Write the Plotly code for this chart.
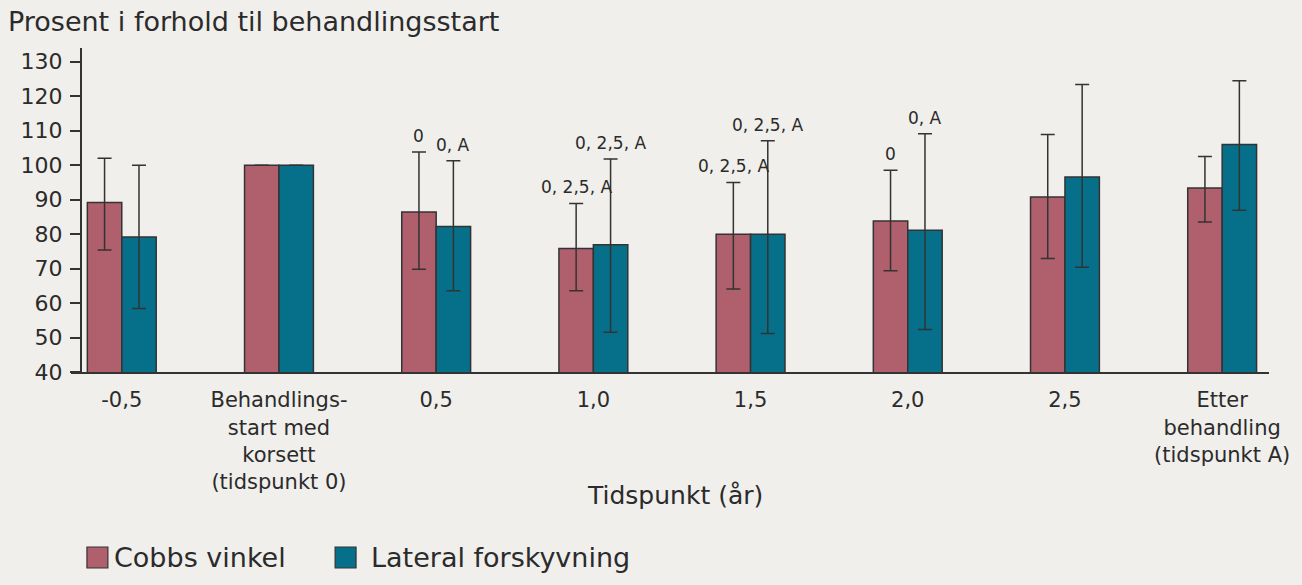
import plotly.graph_objects as go

# ---- data ----
categories = ["-0,5", "Behandlings-<br>start med<br>korsett<br>(tidspunkt 0)", "0,5", "1,0", "1,5",
              "2,0", "2,5", "Etter<br>behandling<br>(tidspunkt A)"]
cobb_mean = [89.2, 100, 86.4, 75.8, 80.0, 83.8, 90.8, 93.4]
cobb_upper = [102.0, None, 103.8, 88.9, 95.0, 98.5, 108.9, 102.5]
cobb_lower = [75.4, None, 69.8, 63.6, 64.1, 69.4, 72.9, 83.5]
lat_mean = [79.2, 100, 82.2, 76.9, 80.0, 81.1, 96.6, 106.0]
lat_upper = [100.0, None, 101.3, 101.8, 107.1, 109.1, 123.4, 124.5]
lat_lower = [58.4, None, 63.6, 51.5, 51.2, 52.3, 70.4, 86.9]
cobb_notes = ["", "", "0", "0, 2,5, A", "0, 2,5, A", "0", "", ""]
lat_notes = ["", "", "0, A", "0, 2,5, A", "0, 2,5, A", "0, A", "", ""]
series_names = ["Cobbs vinkel", "Lateral forskyvning"]

# ---- style ----
W, H = 1302, 585
ML, MR, MT, MB = 71, 29, 48, 213
BG = "#f0efeb"
COBB = "#b0606d"
TEAL = "#06708a"
DARK = "#333333"
TXT = "#2b2b2b"
FONT = "DejaVu Sans"
BW = 0.219

x = list(range(len(categories)))


def err(mean, up, lo):
    plus = [None if u is None else u - m for m, u in zip(mean, up)]
    minus = [None if l is None else m - l for m, l in zip(mean, lo)]
    return plus, minus


cp, cm = err(cobb_mean, cobb_upper, cobb_lower)
lp, lm = err(lat_mean, lat_upper, lat_lower)

fig = go.Figure()
for name, mean, plus, minus, col, off in [
    (series_names[0], cobb_mean, cp, cm, COBB, -BW),
    (series_names[1], lat_mean, lp, lm, TEAL, 0.0),
]:
    fig.add_trace(go.Bar(
        x=x, y=mean, name=name, width=BW, offset=off,
        marker=dict(color=col, line=dict(color=DARK, width=1.5)),
        error_y=dict(type="data", symmetric=False, array=plus, arrayminus=minus,
                     color=DARK, thickness=1.5, width=7),
        showlegend=False, hoverinfo="skip",
    ))

# significance labels above error bars
for notes, up, off in [(cobb_notes, cobb_upper, -BW / 2), (lat_notes, lat_upper, BW / 2)]:
    for i, t in enumerate(notes):
        if t and up[i] is not None:
            fig.add_annotation(x=x[i] + off, y=up[i], text=t, showarrow=False,
                               xref="x", yref="y", yanchor="bottom", yshift=4,
                               font=dict(family=FONT, size=17, color=TXT))

pw = W - ML - MR
ph = H - MT - MB


def px(xp):
    return (xp - ML) / pw


def py(yp):
    return (H - MB - yp) / ph


# axis title
fig.add_annotation(x=px(677), y=py(495), xref="paper", yref="paper", text="Tidspunkt (år)",
                   showarrow=False, yanchor="middle", xanchor="center",
                   font=dict(family=FONT, size=25, color=TXT))

# custom legend
legend_items = [(series_names[0], COBB, 87, 108, 112), (series_names[1], TEAL, 336, 357, 370)]
for name, col, x0, x1, tx in legend_items:
    fig.add_shape(type="rect", xref="paper", yref="paper", x0=px(x0), x1=px(x1),
                  y0=py(568), y1=py(547), fillcolor=col, line=dict(color=DARK, width=1.2))
    fig.add_annotation(x=px(tx), y=py(557), xref="paper", yref="paper", text=name,
                       showarrow=False, xanchor="left", yanchor="middle",
                       font=dict(family=FONT, size=27, color=TXT))

fig.update_layout(
    width=W, height=H,
    margin=dict(l=ML, r=MR, t=MT, b=MB, pad=0),
    paper_bgcolor=BG, plot_bgcolor=BG,
    barmode="overlay",
    title=dict(text="Prosent i forhold til behandlingsstart", x=8 / W, xanchor="left",
               xref="container", y=1 - 22 / H, yanchor="middle",
               font=dict(family=FONT, size=27, color=TXT)),
    xaxis=dict(range=[-0.323, 7.298], tickmode="array", tickvals=x, ticktext=categories,
               showline=True, linecolor=DARK, linewidth=2, ticks="", showgrid=False,
               zeroline=False, ticklabelstandoff=8,
               tickfont=dict(family=FONT, size=21, color=TXT)),
    yaxis=dict(range=[40, 134], tickmode="array", tickvals=list(range(40, 131, 10)),
               showline=True, linecolor=DARK, linewidth=2, ticks="outside", ticklen=10,
               tickwidth=2, tickcolor=DARK, showgrid=False, zeroline=False,
               anchor="free", position=10 / pw, ticklabelstandoff=3,
               tickfont=dict(family=FONT, size=22, color=TXT)),
)

fig.write_html("out.html", config={"displayModeBar": False},
               post_script="document.body.style.margin='0';document.body.style.background='%s';" % BG)
